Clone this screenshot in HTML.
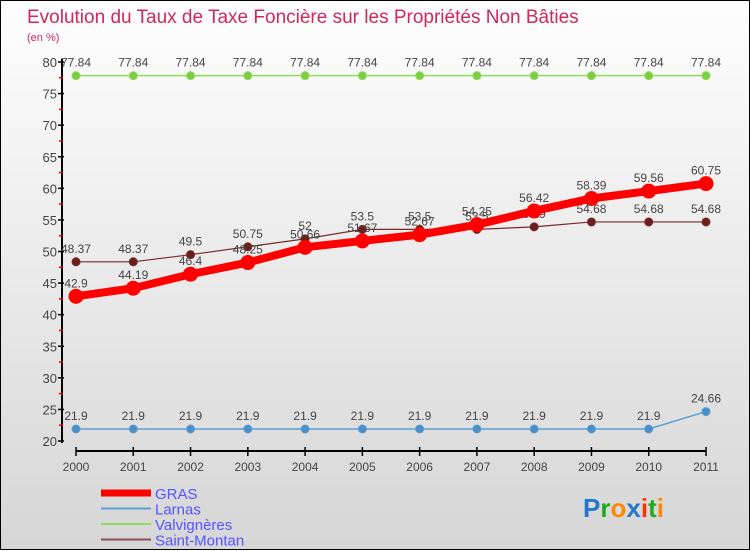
<!DOCTYPE html>
<html><head><meta charset="utf-8"><style>
body{margin:0;width:750px;height:550px;overflow:hidden;font-family:"Liberation Sans",sans-serif}
#wrap{position:relative;width:748px;height:548px;border:1px solid #000;background:linear-gradient(#fefefe,#d6d6d6)}
svg{position:absolute;left:0;top:0}
</style></head><body>
<div id="wrap">
<svg id="c" width="750" height="550">
<text x="26" y="22" font-size="19" fill="#d0285a">Evolution du Taux de Taxe Foncière sur les Propriétés Non Bâties</text>
<text x="26" y="40" font-size="11" fill="#d0285a">(en %)</text>
</svg></div>
<script>
const years=["2000","2001","2002","2003","2004","2005","2006","2007","2008","2009","2010","2011"];
const yTicks=[20,25,30,35,40,45,50,55,60,65,70,75,80];
const gras=[42.9,44.19,46.4,48.25,50.66,51.67,52.67,54.25,56.42,58.39,59.56,60.75];
const larnas=[21.9,21.9,21.9,21.9,21.9,21.9,21.9,21.9,21.9,21.9,21.9,24.66];
const valvigneres=[77.84,77.84,77.84,77.84,77.84,77.84,77.84,77.84,77.84,77.84,77.84,77.84];
const saintMontan=[48.37,48.37,49.5,50.75,52,53.5,53.5,53.5,53.9,54.68,54.68,54.68];
const svg=document.getElementById('c');const NS='http://www.w3.org/2000/svg';
function X(i){return 75+i*(630/11);}
function Y(v){return 440-(v-20)*(379/60);}
function mk(t,a,p){const e=document.createElementNS(NS,t);for(const k in a)e.setAttribute(k,a[k]);(p||svg).appendChild(e);return e;}
// axes
let ax=mk('line',{x1:61,y1:58,x2:61,y2:442,stroke:'#000','stroke-width':2});


let bx=mk('line',{x1:75,y1:450,x2:705,y2:450,stroke:'#000','stroke-width':2});


yTicks.forEach((v,i)=>{
  mk('line',{x1:57,y1:Y(v),x2:63,y2:Y(v),stroke:'#000','stroke-width':1.5});
  if(i<yTicks.length-1)mk('line',{x1:58,y1:Y(v+2.5),x2:62,y2:Y(v+2.5),stroke:'#e00','stroke-width':1.5});
  const t=mk('text',{x:56,y:Y(v)+5,'text-anchor':'end','font-size':13,fill:'#444'});t.textContent=v;
  
  
});
years.forEach((y,i)=>{
  mk('line',{x1:X(i),y1:446,x2:X(i),y2:455,stroke:'#000','stroke-width':1.5});
  const t=mk('text',{x:X(i),y:470,'text-anchor':'middle','font-size':12,fill:'#444'});t.textContent=y;
  
  
});
function series(vals,name,color,w,r,dot){
  const g=mk('g',{});
  
  
  mk('polyline',{points:vals.map((v,i)=>X(i)+','+Y(v)).join(' '),fill:'none',stroke:color,'stroke-width':w},g);
  vals.forEach((v,i)=>{
    const c=mk('circle',{cx:X(i),cy:Y(v),r:r,fill:dot,stroke:color,'stroke-width':1},g);
    
    
    const t=mk('text',{x:X(i),y:Y(v)-9,'text-anchor':'middle','font-size':12,fill:'#444'},g);t.textContent=v;
    
    
  });
}
series(larnas,'larnas','#5a9fd4',1.5,4,'#4a8fc8');
series(valvigneres,'valvigneres','#8fdc5a',1.5,4,'#7ccc44');
series(saintMontan,'saint-montan','#7a2a2a',1.2,4,'#6a1e1e');
series(gras,'gras','#ff0000',8,7,'#ff0000');
// legend
const leg=[['GRAS','#ff0000',7],['Larnas','#5a9fd4',2],['Valvignères','#8fdc5a',2],['Saint-Montan','#8a5050',2]];
leg.forEach((l,i)=>{
  const y=492+i*15.5;
  const g=mk('g',{});
  
  
  mk('line',{x1:100,y1:y,x2:150,y2:y,stroke:l[1],'stroke-width':l[2]},g);
  const t=mk('text',{x:154,y:y+6,'font-size':15,fill:'#5555ff'},g);t.textContent=l[0];
});
// logo
const lg=mk('text',{x:582,y:516,'font-size':26,'font-weight':'bold'});


[['P','#2277cc'],['r','#22aa22'],['o','#ff8800'],['x','#2277cc'],['i','#ff3300'],['t','#22aa22'],['i','#ff8800']].forEach(a=>{const s=mk('tspan',{fill:a[1]},lg);s.textContent=a[0];});
</script>
</body></html>
